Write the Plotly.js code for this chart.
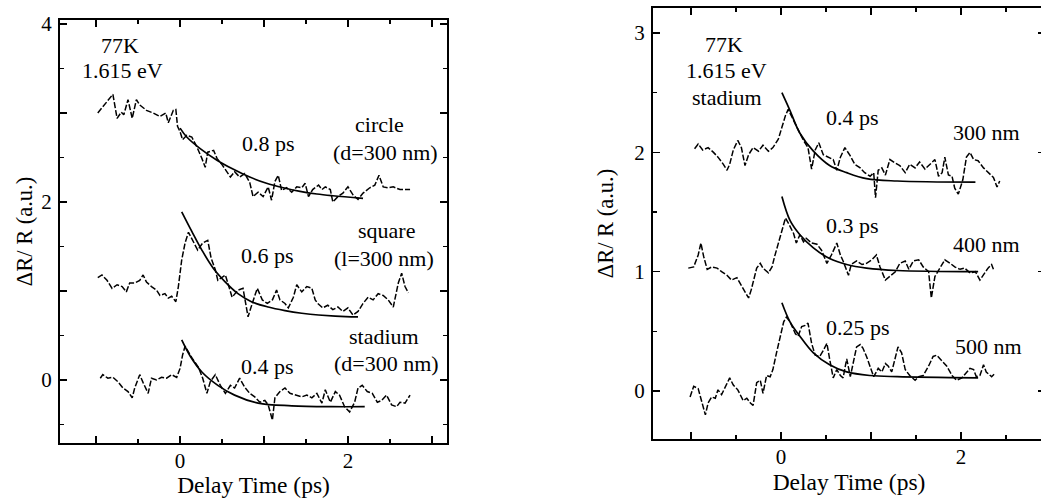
<!DOCTYPE html>
<html>
<head>
<meta charset="utf-8">
<script src="https://cdn.plot.ly/plotly-3.0.1.min.js"></script>
<style>
html,body{margin:0;padding:0;background:#fff;overflow:hidden;width:1041px;height:498px;}
#chart{width:1050px;height:498px;}
</style>
</head>
<body>
<div id="chart"></div>
<script>
// ---------- Left panel: 77K, 1.615 eV, three shapes ----------
const circleX = [-0.98,-0.80,-0.75,-0.70,-0.67,-0.62,-0.57,-0.52,-0.48,-0.40,-0.32,-0.24,-0.17,-0.14,-0.08,-0.05,-0.03,0.0,0.03,0.08,0.14,0.20,0.26,0.30,0.33,0.40,0.44,0.50,0.60,0.65,0.71,0.77,0.83,0.87,0.93,0.99,1.05,1.09,1.13,1.17,1.21,1.27,1.33,1.39,1.45,1.49,1.53,1.58,1.65,1.69,1.73,1.79,1.82,1.88,1.94,2.00,2.06,2.12,2.18,2.26,2.32,2.37,2.42,2.48,2.54,2.62,2.74];
const circleY = [3.0,3.21,2.94,3.01,2.98,3.15,2.94,3.15,3.09,3.03,3.0,2.96,3.0,2.89,3.03,3.04,2.85,2.79,2.70,2.75,2.73,2.62,2.49,2.39,2.56,2.58,2.49,2.42,2.28,2.34,2.28,2.32,2.22,2.06,2.11,2.06,2.17,2.02,2.23,2.30,2.13,2.16,2.11,2.17,2.16,2.21,2.06,2.14,2.19,2.14,2.17,2.14,2.0,2.06,2.10,2.17,2.08,2.03,2.10,2.16,2.19,2.30,2.17,2.16,2.17,2.14,2.14];
const circleFitX = [0.0,0.08,0.24,0.44,0.63,0.83,1.03,1.23,1.43,1.63,1.82,2.18];
const circleFitY = [2.83,2.73,2.60,2.47,2.37,2.28,2.21,2.16,2.12,2.09,2.07,2.04];

const squareX = [-0.98,-0.93,-0.87,-0.81,-0.75,-0.69,-0.64,-0.60,-0.54,-0.48,-0.44,-0.40,-0.34,-0.28,-0.24,-0.18,-0.14,-0.10,-0.05,-0.02,0.02,0.06,0.10,0.21,0.27,0.33,0.37,0.42,0.45,0.54,0.62,0.69,0.75,0.81,0.86,0.92,0.98,1.04,1.10,1.15,1.19,1.25,1.29,1.35,1.39,1.45,1.51,1.57,1.61,1.64,1.70,1.76,1.82,1.88,1.94,2.00,2.06,2.12,2.18,2.24,2.30,2.36,2.42,2.48,2.54,2.60,2.64,2.68,2.72];
const squareY = [1.15,1.18,1.12,1.03,1.07,1.05,0.99,1.09,1.09,1.12,1.18,1.10,1.05,1.01,0.95,0.97,0.92,0.94,0.88,1.05,1.35,1.54,1.66,1.46,1.54,1.57,1.37,1.24,1.12,1.18,0.93,1.01,1.03,0.71,0.86,1.03,0.90,0.86,0.90,1.01,0.90,0.86,0.81,0.93,1.07,0.99,1.05,1.03,0.90,0.86,0.81,0.84,0.79,0.82,0.77,0.81,0.73,0.77,0.86,0.93,0.90,0.97,0.95,0.90,0.82,1.09,1.20,1.05,0.98];
const squareFitX = [0.02,0.14,0.26,0.40,0.54,0.69,0.85,1.05,1.25,1.45,1.65,2.04,2.12];
const squareFitY = [1.89,1.67,1.46,1.25,1.10,0.97,0.88,0.82,0.78,0.75,0.73,0.71,0.71];

const stadiumLX = [-0.95,-0.92,-0.86,-0.80,-0.74,-0.68,-0.62,-0.57,-0.54,-0.48,-0.44,-0.38,-0.34,-0.28,-0.22,-0.16,-0.10,-0.04,0.0,0.03,0.06,0.14,0.22,0.27,0.32,0.36,0.42,0.48,0.54,0.60,0.65,0.71,0.77,0.83,0.89,0.95,1.01,1.05,1.10,1.13,1.19,1.25,1.31,1.37,1.45,1.51,1.57,1.63,1.69,1.73,1.79,1.85,1.90,1.96,2.02,2.08,2.12,2.17,2.23,2.29,2.35,2.40,2.46,2.52,2.58,2.62,2.68,2.74];
const stadiumLY = [0.02,0.06,0.02,0.03,-0.02,-0.09,-0.13,-0.20,-0.09,0.06,-0.03,-0.15,0.02,0.0,0.03,0.02,0.06,0.03,0.13,0.28,0.38,0.25,0.14,0.02,-0.15,-0.02,0.06,-0.06,-0.15,-0.06,-0.09,0.02,-0.08,-0.15,-0.19,-0.25,-0.23,-0.28,-0.45,-0.20,-0.13,-0.09,-0.15,-0.17,-0.19,-0.17,-0.20,-0.15,-0.26,-0.11,-0.25,-0.13,-0.17,-0.30,-0.36,-0.25,-0.09,-0.06,-0.13,-0.15,-0.25,-0.23,-0.17,-0.28,-0.30,-0.25,-0.26,-0.17];
const stadiumLFitX = [0.02,0.12,0.26,0.45,0.65,0.93,1.33,1.80,2.20];
const stadiumLFitY = [0.45,0.27,0.09,-0.06,-0.17,-0.26,-0.29,-0.30,-0.30];

// ---------- Right panel: stadium, three sizes ----------
const s300X = [-0.96,-0.92,-0.87,-0.81,-0.75,-0.70,-0.64,-0.60,-0.57,-0.53,-0.48,-0.44,-0.40,-0.36,-0.31,-0.25,-0.20,-0.14,-0.09,-0.03,0.01,0.05,0.08,0.14,0.19,0.25,0.30,0.34,0.38,0.42,0.47,0.53,0.58,0.62,0.66,0.71,0.77,0.82,0.88,0.93,0.99,1.03,1.05,1.08,1.12,1.16,1.21,1.27,1.32,1.38,1.43,1.49,1.54,1.60,1.66,1.71,1.75,1.79,1.82,1.86,1.90,1.93,1.97,2.02,2.06,2.10,2.14,2.19,2.25,2.30,2.36,2.40,2.43];
const s300Y = [2.03,2.07,2.02,2.04,2.0,1.96,1.90,1.85,1.90,2.02,2.10,2.04,1.89,1.98,2.04,2.01,2.06,2.01,2.04,2.11,2.21,2.31,2.36,2.27,2.19,2.10,2.04,1.86,2.02,2.08,1.98,1.96,1.94,1.85,1.96,2.04,1.97,1.90,1.87,1.83,1.80,1.83,1.62,1.85,1.87,1.81,1.94,1.91,1.89,1.83,1.90,1.87,1.92,1.86,1.90,1.94,1.80,1.83,1.96,1.81,1.80,1.70,1.65,1.77,1.96,2.0,1.94,1.93,1.87,1.83,1.79,1.71,1.76];
const s300FitX = [0.01,0.10,0.21,0.36,0.54,0.73,0.95,1.29,2.16];
const s300FitY = [2.50,2.35,2.16,2.01,1.89,1.83,1.78,1.76,1.75];

const s400X = [-1.03,-0.97,-0.92,-0.89,-0.86,-0.82,-0.77,-0.71,-0.66,-0.60,-0.55,-0.49,-0.46,-0.40,-0.36,-0.33,-0.27,-0.23,-0.20,-0.14,-0.10,-0.07,-0.03,0.01,0.05,0.08,0.14,0.17,0.21,0.25,0.28,0.34,0.40,0.45,0.51,0.56,0.62,0.66,0.69,0.75,0.78,0.84,0.90,0.95,1.01,1.06,1.10,1.16,1.21,1.27,1.32,1.38,1.42,1.47,1.53,1.58,1.64,1.67,1.71,1.77,1.82,1.88,1.93,1.99,2.04,2.10,2.16,2.21,2.27,2.30,2.34,2.36];
const s400Y = [1.03,1.04,1.14,1.24,1.13,1.02,1.04,1.03,1.00,0.97,0.93,0.95,0.91,0.83,0.78,0.85,1.03,1.07,1.03,0.99,1.04,1.13,1.24,1.35,1.45,1.41,1.32,1.24,1.31,1.25,1.28,1.24,1.23,1.18,1.07,1.14,1.24,1.14,1.09,0.97,1.06,1.09,1.06,1.07,1.10,1.14,1.04,0.93,0.96,1.00,1.07,1.09,1.02,1.09,1.10,1.04,1.00,0.78,0.96,1.04,1.10,1.07,1.04,1.02,1.03,0.99,1.00,0.93,1.00,1.03,1.06,1.02];
const s400FitX = [0.01,0.10,0.21,0.36,0.54,0.73,0.95,1.29,2.19];
const s400FitY = [1.63,1.43,1.31,1.20,1.11,1.06,1.03,1.01,1.00];

const s500X = [-1.01,-0.97,-0.92,-0.88,-0.84,-0.81,-0.77,-0.73,-0.70,-0.66,-0.60,-0.57,-0.53,-0.48,-0.42,-0.38,-0.34,-0.31,-0.27,-0.23,-0.20,-0.16,-0.12,-0.09,-0.05,-0.01,0.03,0.06,0.10,0.16,0.19,0.23,0.27,0.30,0.34,0.38,0.43,0.47,0.51,0.54,0.58,0.62,0.66,0.69,0.73,0.77,0.80,0.84,0.88,0.91,0.95,0.99,1.03,1.08,1.12,1.16,1.19,1.23,1.27,1.30,1.34,1.38,1.43,1.49,1.53,1.58,1.64,1.69,1.73,1.79,1.84,1.90,1.95,2.01,2.06,2.10,2.14,2.17,2.21,2.25,2.28,2.34,2.38];
const s500Y = [-0.05,0.04,0.02,-0.08,-0.20,-0.10,-0.05,-0.06,0.01,-0.03,0.07,0.11,0.05,0.01,-0.08,-0.06,-0.10,-0.12,0.07,0.09,-0.02,0.13,0.12,0.18,0.32,0.46,0.58,0.62,0.58,0.48,0.46,0.54,0.55,0.57,0.40,0.30,0.29,0.34,0.40,0.27,0.11,0.18,0.13,0.11,0.27,0.12,0.23,0.37,0.39,0.36,0.29,0.21,0.12,0.19,0.16,0.23,0.21,0.16,0.29,0.37,0.32,0.18,0.13,0.09,0.12,0.13,0.21,0.29,0.30,0.25,0.21,0.13,0.09,0.11,0.15,0.19,0.18,0.12,0.13,0.22,0.16,0.12,0.15];
const s500FitX = [0.01,0.10,0.21,0.36,0.54,0.73,0.99,1.29,2.19];
const s500FitY = [0.74,0.58,0.46,0.32,0.22,0.16,0.13,0.12,0.11];

// ---------- Tick labels ----------
const leftXTicks = [-1,0,1,2,3];
const leftXLabels = ['','0','','2',''];
const leftYTicks = [0,1,2,3,4];
const leftYLabels = ['0','','2','','4'];
const rightXTicks = [-1,0,1,2];
const rightXLabels = ['','0','','2'];
const rightYTicks = [0,1,2,3];
const rightYLabels = ['0','1','2','3'];

// ---------- Text labels ----------
const leftLabels = [
  {t:'77K', x:-0.71, y:3.76},
  {t:'1.615 eV', x:-0.68, y:3.48},
  {t:'0.8 ps', x:1.05, y:2.66},
  {t:'circle', x:2.38, y:2.87},
  {t:'(d=300 nm)', x:2.45, y:2.56},
  {t:'0.6 ps', x:1.04, y:1.40},
  {t:'square', x:2.46, y:1.68},
  {t:'(l=300 nm)', x:2.43, y:1.37},
  {t:'0.4 ps', x:1.04, y:0.15},
  {t:'stadium', x:2.43, y:0.49},
  {t:'(d=300 nm)', x:2.46, y:0.18}
];
const rightLabels = [
  {t:'77K', x:-0.63, y:2.90},
  {t:'1.615 eV', x:-0.61, y:2.69},
  {t:'stadium', x:-0.60, y:2.46},
  {t:'0.4 ps', x:0.79, y:2.29},
  {t:'300 nm', x:2.28, y:2.17},
  {t:'0.3 ps', x:0.79, y:1.39},
  {t:'400 nm', x:2.28, y:1.23},
  {t:'0.25 ps', x:0.86, y:0.53},
  {t:'500 nm', x:2.30, y:0.37}
];

const FONT = 'Liberation Serif';
const W = 1050, H = 498;

function dataTrace(x, y, xa, ya) {
  return {x:x, y:y, xaxis:xa, yaxis:ya, type:'scatter', mode:'lines',
    line:{color:'#000', width:1.5, dash:'6px,2px'}, hoverinfo:'skip', showlegend:false};
}
function fitTrace(x, y, xa, ya) {
  return {x:x, y:y, xaxis:xa, yaxis:ya, type:'scatter', mode:'lines',
    line:{color:'#000', width:1.7, shape:'spline', smoothing:1}, hoverinfo:'skip', showlegend:false};
}

const traces = [
  dataTrace(circleX, circleY, 'x', 'y'), fitTrace(circleFitX, circleFitY, 'x', 'y'),
  dataTrace(squareX, squareY, 'x', 'y'), fitTrace(squareFitX, squareFitY, 'x', 'y'),
  dataTrace(stadiumLX, stadiumLY, 'x', 'y'), fitTrace(stadiumLFitX, stadiumLFitY, 'x', 'y'),
  dataTrace(s300X, s300Y, 'x2', 'y2'), fitTrace(s300FitX, s300FitY, 'x2', 'y2'),
  dataTrace(s400X, s400Y, 'x2', 'y2'), fitTrace(s400FitX, s400FitY, 'x2', 'y2'),
  dataTrace(s500X, s500Y, 'x2', 'y2'), fitTrace(s500FitX, s500FitY, 'x2', 'y2')
];

function axis(extra) {
  return Object.assign({
    showline:true, linecolor:'#000', linewidth:2, mirror:'ticks',
    ticks:'inside', ticklen:7, tickwidth:1.5, tickcolor:'#000',
    showgrid:false, zeroline:false, tickmode:'array',
    tickfont:{family:FONT, size:21, color:'#000'},
    minor:{tickmode:'linear', tick0:0, dtick:0.5, ticks:'inside', ticklen:4, tickwidth:1.5, tickcolor:'#000', showgrid:false},
    fixedrange:true
  }, extra);
}

const annotations = [];
leftLabels.forEach(a => annotations.push({text:a.t, x:a.x, y:a.y, xref:'x', yref:'y', showarrow:false,
  font:{family:FONT, size:22, color:'#000'}, xanchor:'center', yanchor:'middle'}));
rightLabels.forEach(a => annotations.push({text:a.t, x:a.x, y:a.y, xref:'x2', yref:'y2', showarrow:false,
  font:{family:FONT, size:22, color:'#000'}, xanchor:'center', yanchor:'middle'}));

const layout = {
  width:W, height:H, margin:{l:0, r:0, t:0, b:0},
  paper_bgcolor:'#fff', plot_bgcolor:'#fff',
  font:{family:FONT, size:22, color:'#000'},
  showlegend:false,
  xaxis: axis({domain:[60/W, 447/W], range:[-1.43, 3.18], anchor:'y',
    tickvals:leftXTicks, ticktext:leftXLabels, ticklabelstandoff:-2,
    title:{text:'Delay Time (ps)', font:{family:FONT, size:23.5, color:'#000'}, standoff:0}}),
  yaxis: axis({domain:[1-443/H, 1-20/H], range:[-0.708, 4.045], anchor:'x',
    tickvals:leftYTicks, ticktext:leftYLabels, ticklabelstandoff:2,
    title:{text:'ΔR/ R (a.u.)', font:{family:FONT, size:22.5, color:'#000'}, standoff:2}}),
  xaxis2: axis({domain:[653/W, 1045/W], range:[-1.422, 2.933], anchor:'y2',
    tickvals:rightXTicks, ticktext:rightXLabels, ticklabelstandoff:-2,
    title:{text:'Delay Time (ps)', font:{family:FONT, size:23.5, color:'#000'}, standoff:0}}),
  yaxis2: axis({domain:[1-439/H, 1-8/H], range:[-0.402, 3.21], anchor:'x2',
    tickvals:rightYTicks, ticktext:rightYLabels, ticklabelstandoff:2,
    title:{text:'ΔR/ R (a.u.)', font:{family:FONT, size:22.5, color:'#000'}, standoff:14}}),
  annotations: annotations
};

Plotly.newPlot('chart', traces, layout, {staticPlot:true, displayModeBar:false});
</script>
</body>
</html>
